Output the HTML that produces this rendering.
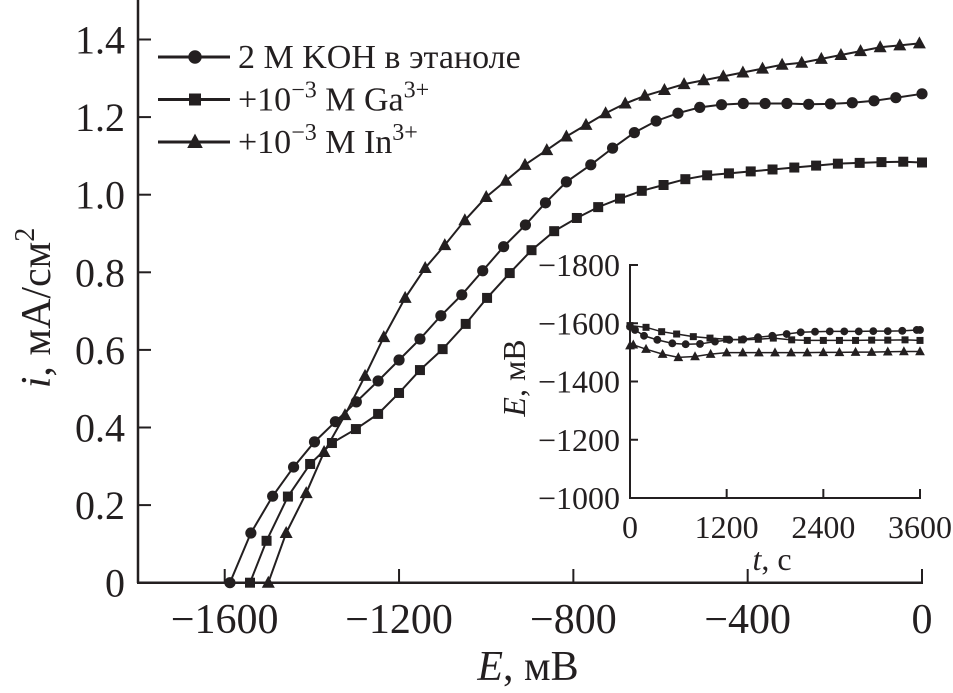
<!DOCTYPE html>
<html><head><meta charset="utf-8"><style>
html,body{margin:0;padding:0;background:#fff}
svg{display:block}
text{font-family:"Liberation Serif",serif;fill:#231f20}
</style></head><body>
<svg id="c" width="953" height="693" viewBox="0 0 953 693"></svg>
<script>
// main chart data
const eCirc=[-1588,-1540,-1490,-1442,-1394,-1346,-1298,-1248,-1200,-1152,-1104,-1056,-1008,-960,-910,-864,-816,-760,-710,-660,-610,-560,-510,-460,-410,-360,-310,-260,-210,-160,-110,-60,0];
const iCirc=[0.0,0.128,0.223,0.298,0.363,0.415,0.466,0.52,0.574,0.628,0.688,0.742,0.804,0.866,0.922,0.979,1.033,1.077,1.12,1.16,1.19,1.21,1.225,1.232,1.235,1.235,1.235,1.233,1.234,1.237,1.242,1.25,1.26];
const eSq=[-1542,-1504,-1455,-1404,-1354,-1299,-1248,-1200,-1152,-1100,-1047,-998,-946,-896,-844,-792,-743,-693,-643,-593,-543,-493,-443,-393,-343,-293,-243,-193,-143,-93,-43,0];
const iSq=[0.0,0.108,0.222,0.306,0.36,0.396,0.435,0.489,0.548,0.602,0.667,0.734,0.798,0.857,0.906,0.94,0.968,0.99,1.01,1.025,1.04,1.05,1.055,1.06,1.065,1.07,1.075,1.08,1.082,1.084,1.085,1.083];
const eTri=[-1500,-1459,-1413,-1372,-1324,-1278,-1235,-1186,-1140,-1095,-1049,-1000,-955,-911,-861,-816,-771,-726,-681,-636,-591,-546,-501,-456,-411,-366,-321,-276,-231,-186,-141,-96,-51,-6];
const iTri=[0.0,0.128,0.231,0.337,0.432,0.533,0.633,0.734,0.811,0.87,0.934,0.994,1.036,1.077,1.115,1.15,1.18,1.21,1.235,1.255,1.27,1.285,1.295,1.305,1.315,1.325,1.335,1.34,1.35,1.36,1.37,1.38,1.385,1.39];
const xTicks=[-1600,-1200,-800,-400,0];
const xTickLabels=["−1600","−1200","−800","−400","0"];
const yTicks=[0,0.2,0.4,0.6,0.8,1.0,1.2,1.4];
const yTickLabels=["0","0.2","0.4","0.6","0.8","1.0","1.2","1.4"];
// inset data
const tCirc=[0,62,174,339,525,691,869,1055,1233,1407,1589,1767,1945,2119,2297,2480,2660,2840,3020,3200,3380,3560,3600];
const vCirc=[-1588,-1577,-1557,-1543,-1531,-1528,-1529,-1537,-1543,-1545,-1552,-1557,-1563,-1569,-1571,-1572,-1572,-1572,-1573,-1573,-1574,-1577,-1577];
const tSq=[0,199,393,579,786,993,1200,1386,1593,1779,2007,2201,2400,2600,2800,3000,3200,3414,3600];
const vSq=[-1592,-1586,-1571,-1563,-1554,-1549,-1545,-1543,-1545,-1549,-1543,-1541,-1541,-1541,-1541,-1542,-1542,-1543,-1541];
const tTri=[0,41,199,405,600,807,1001,1200,1400,1600,1800,2000,2200,2400,2600,2800,3000,3200,3400,3600];
const vTri=[-1523,-1526,-1511,-1494,-1483,-1486,-1494,-1499,-1499,-1499,-1499,-1499,-1499,-1500,-1500,-1501,-1501,-1502,-1503,-1503];
const insetXTicks=[0,1200,2400,3600];
const insetYTicks=[-1800,-1600,-1400,-1200,-1000];
const insetYLabels=["−1800","−1600","−1400","−1200","−1000"];

const NS="http://www.w3.org/2000/svg";
const svg=document.getElementById('c');
function el(tag,attrs,parent){const e=document.createElementNS(NS,tag);for(const k in attrs)e.setAttribute(k,attrs[k]);(parent||svg).appendChild(e);return e;}
const X=e=>922+e*0.4358;
const Y=i=>582.7-i*388;
const IX=t=>630+t*290/3600;
const IY=v=>265+(v+1800)*233/800;
const C="#231f20";

let a=el('line',{x1:138,y1:0,x2:138,y2:583,stroke:C,'stroke-width':2.5});


a=el('line',{x1:137,y1:582.7,x2:923,y2:582.7,stroke:C,'stroke-width':2.5});


xTicks.forEach((v,k)=>{
  const l=el('line',{x1:X(v),y1:582,x2:X(v),y2:569,stroke:C,'stroke-width':2});
  
  
  const t=el('text',{x:X(v),y:633,'text-anchor':'middle','font-size':42});
  t.textContent=xTickLabels[k];
  
  
});
yTicks.forEach((v,k)=>{
  const l=el('line',{x1:138,y1:Y(v),x2:151,y2:Y(v),stroke:C,'stroke-width':2});
  
  
  const t=el('text',{x:125,y:Y(v)+14,'text-anchor':'end','font-size':40});
  t.textContent=yTickLabels[k];
  
  
});
let t=el('text',{x:0,y:0,'text-anchor':'middle','font-size':42,transform:'translate(50,308) rotate(-90)'});
t.innerHTML='<tspan font-style="italic">i</tspan>, мА/см<tspan font-size="28" dy="-16">2</tspan>';


t=el('text',{x:528,y:680,'text-anchor':'middle','font-size':42});
t.innerHTML='<tspan font-style="italic">E</tspan>, мВ';



function marker(type,x,y,s,g){
  let m;
  if(type==='c')m=el('circle',{cx:x,cy:y,r:5.6*s,fill:C},g);
  else if(type==='s')m=el('rect',{x:x-5*s,y:y-5*s,width:10*s,height:10*s,fill:C},g);
  else m=el('polygon',{points:`${x},${y-7*s} ${x-6.5*s},${y+5*s} ${x+6.5*s},${y+5*s}`,fill:C},g);
  
  
}
function series(xs,ys,fx,fy,type,name,s,w){
  const g=el('g',{});
  
  
  const p=el('polyline',{points:xs.map((v,k)=>fx(v)+','+fy(ys[k])).join(' '),fill:'none',stroke:C,'stroke-width':w},g);
  
  
  xs.forEach((v,k)=>marker(type,fx(v),fy(ys[k]),s,g));
}
series(eCirc,iCirc,X,Y,'c','series-koh',1,2);
series(eSq,iSq,X,Y,'s','series-ga',1,2);
series(eTri,iTri,X,Y,'t','series-in',1,2);

const leg=[['c','2 М KOH в этаноле',''],['s','+10','Ga'],['t','+10','In']];
leg.forEach((d,k)=>{
  const y=57+k*42.5;
  const g=el('g',{});
  
  
  el('line',{x1:158,y1:y,x2:230,y2:y,stroke:C,'stroke-width':3},g);
  marker(d[0],195,y,1.2,g);
  const tx=el('text',{x:238,y:y+11,'font-size':34},g);
  if(k===0)tx.textContent=d[1];
  else tx.innerHTML='+10<tspan font-size="24" dy="-13">−3</tspan><tspan dy="13"> М '+d[2]+'</tspan><tspan font-size="24" dy="-13">3+</tspan>';
});

const ig=el('g',{});


el('line',{x1:630,y1:264,x2:630,y2:499,stroke:C,'stroke-width':2},ig);
el('line',{x1:629,y1:498,x2:921,y2:498,stroke:C,'stroke-width':2},ig);
insetYTicks.forEach((v,k)=>{
  el('line',{x1:630,y1:IY(v),x2:638,y2:IY(v),stroke:C,'stroke-width':2},ig);
  const tt=el('text',{x:620,y:IY(v)+11,'text-anchor':'end','font-size':32},ig);
  tt.textContent=insetYLabels[k];
  
  
});
insetXTicks.forEach(v=>{
  el('line',{x1:IX(v),y1:498,x2:IX(v),y2:489,stroke:C,'stroke-width':2},ig);
  const tt=el('text',{x:IX(v),y:538,'text-anchor':'middle','font-size':32},ig);
  tt.textContent=String(v);
  
  
});
t=el('text',{x:0,y:0,'text-anchor':'middle','font-size':32,transform:'translate(525,378) rotate(-90)'},ig);
t.innerHTML='<tspan font-style="italic">E</tspan>, мВ';


t=el('text',{x:772,y:570,'text-anchor':'middle','font-size':32},ig);
t.innerHTML='<tspan font-style="italic">t</tspan>, с';


series(tCirc,vCirc,IX,IY,'c','inset-series-koh',0.7,1.5);
series(tSq,vSq,IX,IY,'s','inset-series-ga',0.7,1.5);
series(tTri,vTri,IX,IY,'t','inset-series-in',0.75,1.5);
</script>
</body></html>
